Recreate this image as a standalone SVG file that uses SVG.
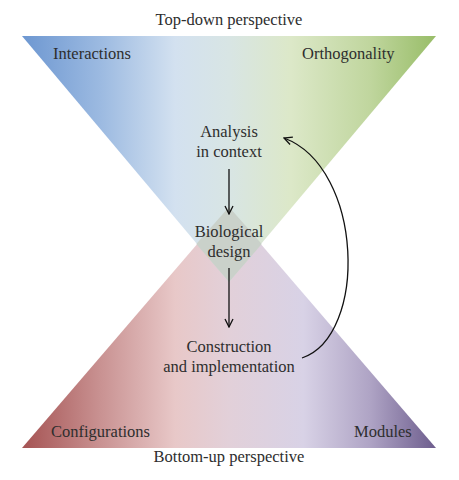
<svg xmlns="http://www.w3.org/2000/svg" width="459" height="480" viewBox="0 0 459 480">
  <defs>
    <linearGradient id="gTop" x1="22" y1="0" x2="436" y2="0" gradientUnits="userSpaceOnUse">
      <stop offset="0" stop-color="#6d97d1"/>
      <stop offset="0.19" stop-color="#9cbae1"/>
      <stop offset="0.37" stop-color="#d3e1f0"/>
      <stop offset="0.5" stop-color="#d8e5e4"/>
      <stop offset="0.65" stop-color="#dce8c8"/>
      <stop offset="0.84" stop-color="#c0d69e"/>
      <stop offset="1" stop-color="#98bd68"/>
    </linearGradient>
    <linearGradient id="gBot" x1="22" y1="0" x2="436" y2="0" gradientUnits="userSpaceOnUse">
      <stop offset="0" stop-color="#a55353"/>
      <stop offset="0.19" stop-color="#c99292"/>
      <stop offset="0.37" stop-color="#e8c8c8"/>
      <stop offset="0.5" stop-color="#e2d0d9"/>
      <stop offset="0.68" stop-color="#d8d2e6"/>
      <stop offset="0.84" stop-color="#afa4c5"/>
      <stop offset="1" stop-color="#6d5d8d"/>
    </linearGradient>
    <marker id="arr" viewBox="0 0 10 10" refX="9" refY="5" markerWidth="10" markerHeight="10" markerUnits="userSpaceOnUse" orient="auto">
      <path d="M1,1 L9,5 L1,9" fill="none" stroke="#111" stroke-width="1.3"/>
    </marker>
    <style>
      .lbl { font-family: "Liberation Serif", "Times New Roman", serif; font-size: 16.5px; fill: #2e2e2e; }
      .mid { text-anchor: middle; }
      .conn { fill: none; stroke: #111; stroke-width: 1.3; }
    </style>
  </defs>

  <g id="bottom-up">
    <polygon points="22,448 436,448 229,207" fill="url(#gBot)"/>
  </g>
  <g id="top-down">
    <polygon points="22,36 436,36 229,282" fill="url(#gTop)"/>
  </g>
  <g id="overlap">
    <polygon points="229,207 261.7,244 229,282 196.3,244" fill="#cad1ca"/>
  </g>

  <g id="label-top">
    <text class="lbl mid" x="229" y="25">Top-down perspective</text>
  </g>
  <g id="label-interactions">
    <text class="lbl" x="53" y="59">Interactions</text>
  </g>
  <g id="label-orthogonality">
    <text class="lbl" x="302" y="59">Orthogonality</text>
  </g>
  <g id="label-configurations">
    <text class="lbl" x="51" y="437">Configurations</text>
  </g>
  <g id="label-modules">
    <text class="lbl" x="354" y="437">Modules</text>
  </g>
  <g id="label-bottom">
    <text class="lbl mid" x="229" y="462">Bottom-up perspective</text>
  </g>

  <g id="node-analysis">
    <text class="lbl mid" x="229" y="137">Analysis</text>
    <text class="lbl mid" x="229" y="157">in context</text>
  </g>
  <g id="node-design">
    <text class="lbl mid" x="229" y="237">Biological</text>
    <text class="lbl mid" x="229" y="257">design</text>
  </g>
  <g id="node-construction">
    <text class="lbl mid" x="229" y="352">Construction</text>
    <text class="lbl mid" x="229" y="372">and implementation</text>
  </g>

  <g id="connectors">
    <line class="conn" x1="229" y1="169" x2="229" y2="214" marker-end="url(#arr)"/>
    <line class="conn" x1="229" y1="268" x2="229" y2="327" marker-end="url(#arr)"/>
    <path class="conn" d="M302,358 C368,336 364,168 284,138" marker-end="url(#arr)"/>
  </g>
</svg>
